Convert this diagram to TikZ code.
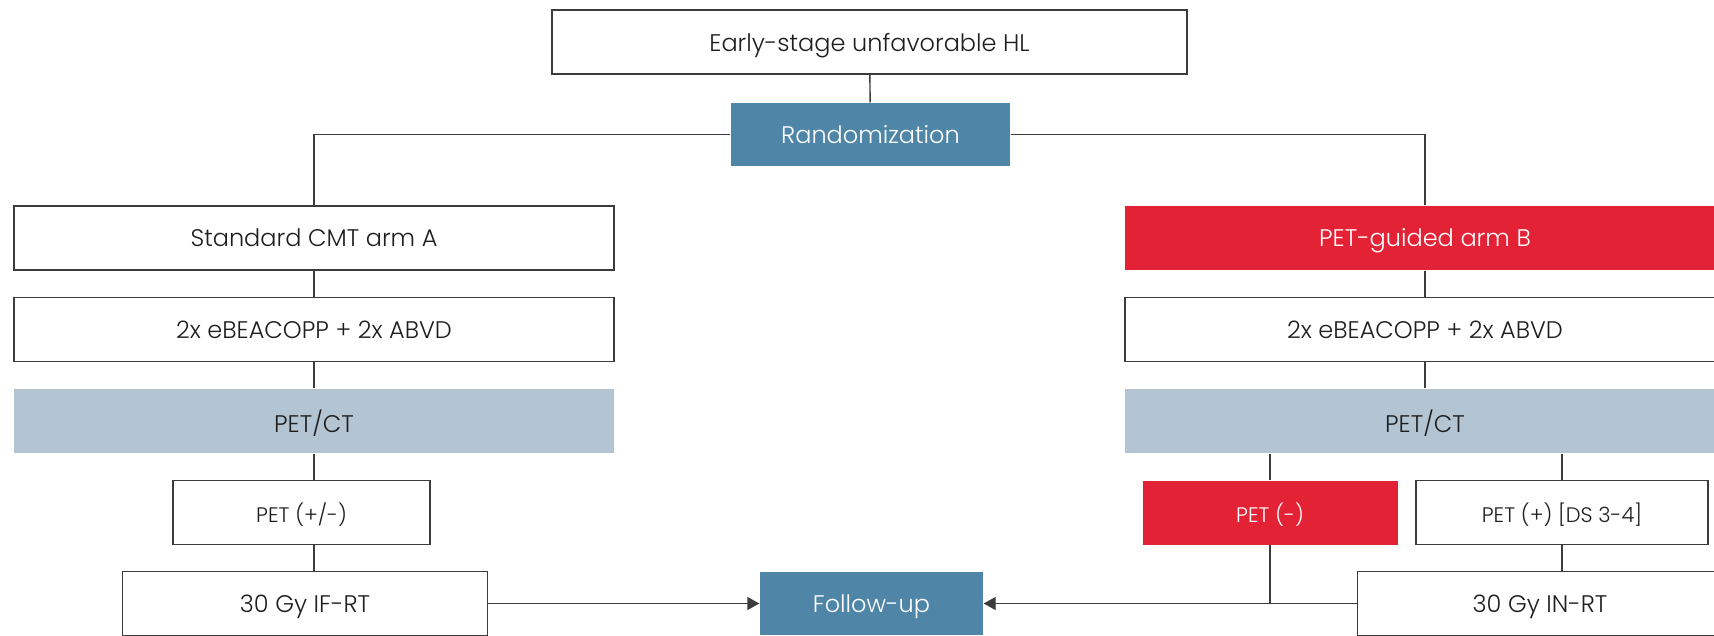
\documentclass[tikz,border=0pt]{standalone}
\usepackage{fontspec}
\setmainfont{Poppins Light}
\usetikzlibrary{arrows.meta}
\definecolor{steel}{RGB}{79,134,168}
\definecolor{redbox}{RGB}{227,34,54}
\definecolor{grayblue}{RGB}{179,196,211}
\definecolor{linec}{RGB}{60,60,60}
\definecolor{textc}{RGB}{30,30,30}
\begin{document}
\begin{tikzpicture}[x=1pt,y=-1pt,
  box/.style={draw=linec, line width=1.4pt, fill=white, minimum height=64pt, inner sep=0pt, text depth=0pt, font=\fontsize{24}{28}\selectfont, text=textc},
  smallbox/.style={box, font=\fontsize{21}{25}\selectfont},
  bluebox/.style={box, draw=none, fill=steel, text=white},
  redfill/.style={box, draw=none, fill=redbox, text=white},
  ctbox/.style={box, draw=none, fill=grayblue, text=textc},
  conn/.style={draw=linec, line width=1.4pt},
  arr/.style={conn, -{Triangle[length=12pt,width=13pt]}}
]
\useasboundingbox (0,0) rectangle (1714,635);
\clip (0,0) rectangle (1714,635);
\fill[white] (0,0) rectangle (1714,635);

\node[box, minimum width=635pt] (top) at (869.5,42) {Early-stage unfavorable HL};
\node[bluebox, minimum width=279pt, minimum height=63pt] (rand) at (870.5,134.5) {Randomization};

% left column
\node[box, minimum width=600pt] (armA) at (314,237.8) {Standard CMT arm A};
\node[box, minimum width=600pt] (eA) at (314,329.5) {2x eBEACOPP + 2x ABVD};
\node[ctbox, minimum width=600pt] (ctA) at (314,420.8) {PET/CT};
\node[smallbox, minimum width=257pt] (pmA) at (301.5,512.5) {PET (+/-)};
\node[box, minimum width=365pt] (ifrt) at (305,603.5) {30 Gy IF-RT};

% right column
\node[redfill, minimum width=600pt] (armB) at (1425,237.8) {PET-guided arm B};
\node[box, minimum width=600pt] (eB) at (1425,329.5) {2x eBEACOPP + 2x ABVD};
\node[ctbox, minimum width=600pt] (ctB) at (1425,420.8) {PET/CT};
\node[redfill, minimum width=255pt, font=\fontsize{21}{25}\selectfont] (petneg) at (1270,512.5) {PET (-)};
\node[smallbox, minimum width=292pt] (petpos) at (1562,512.5) {PET (+) [DS 3-4]};
\node[box, minimum width=365pt] (inrt) at (1540,603.5) {30 Gy IN-RT};

\node[bluebox, minimum width=223pt, minimum height=63pt] (fu) at (871.5,603.5) {Follow-up};

% connectors
\draw[conn] (top) -- (rand);
\draw[conn] (rand.west) -| (armA.north);
\draw[conn] (rand.east) -| (armB.north);
\draw[conn] (armA) -- (eA);
\draw[conn] (eA) -- (ctA);
\draw[conn] (ctA.south) -- (ctA.south |- pmA.north);
\draw[conn] (pmA.south -| ctA.south) -- (ifrt.north -| ctA.south);
\draw[arr] (ifrt.east) -- (fu.west);

\draw[conn] (armB) -- (eB);
\draw[conn] (eB) -- (ctB);
\draw[conn] (petneg.north |- ctB.south) -- (petneg.north);
\draw[conn] (petpos.north |- ctB.south) -- (petpos.north);
\draw[conn] (petpos.south) -- (petpos.south |- inrt.north);
\draw[conn] (petneg.south) -- (petneg.south |- fu.east);
\draw[arr] (inrt.west) -- (fu.east);
\end{tikzpicture}
\end{document}
